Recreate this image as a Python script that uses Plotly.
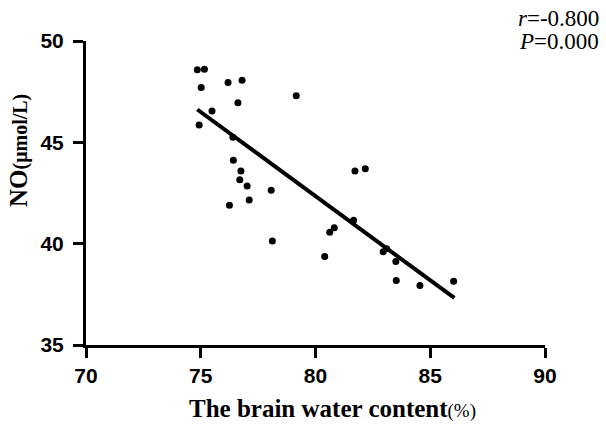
import plotly.graph_objects as go

# Data
water = [74.85, 75.16, 75.02, 75.49, 74.93, 76.19, 76.80, 76.62, 76.40, 76.42,
         76.75, 76.70, 77.02, 77.11, 76.25, 78.07, 78.12, 79.16, 81.72, 82.17,
         81.66, 80.62, 80.82, 80.40, 82.95, 83.10, 83.50, 83.52, 84.55, 86.02]
no_vals = [48.58, 48.60, 47.70, 46.55, 45.85, 47.95, 48.06, 46.95, 45.25, 44.12,
           43.58, 43.15, 42.85, 42.15, 41.90, 42.64, 40.13, 47.30, 43.58, 43.70,
           41.15, 40.56, 40.78, 39.37, 39.60, 39.75, 39.12, 38.18, 37.93, 38.15]
fit_x = [74.85, 86.05]
fit_y = [46.62, 37.32]
x_ticks = [70, 75, 80, 85, 90]
y_ticks = [35, 40, 45, 50]
stats_text = ["<i>r</i>=-0.800", "<i>P</i>=0.000"]
x_title = "<b>The brain water content</b><span style='font-size:19px'>(%)</span>"
y_title = "<b>NO<span style='font-size:20px'>(μmol/L)</span></b>"

W, H = 606, 425
L, R, T, B = 86, 61, 41, 80
pw, ph = W - L - R, H - T - B

fig = go.Figure()
fig.add_trace(go.Scatter(x=fit_x, y=fit_y, mode="lines",
                         line=dict(color="black", width=4), hoverinfo="skip"))
fig.add_trace(go.Scatter(x=water, y=no_vals, mode="markers",
                         marker=dict(color="black", size=7)))

axis_common = dict(showgrid=False, zeroline=False, showline=True, linecolor="black",
                   linewidth=3, ticks="outside", tickwidth=3, ticklen=10, tickcolor="black",
                   automargin=False,
                   tickfont=dict(family="Liberation Sans", size=21, color="black", weight="bold"))

fig.update_xaxes(range=[70, 90], tickvals=x_ticks, ticktext=[str(v) for v in x_ticks],
                 ticklabelstandoff=0, **axis_common)
fig.update_yaxes(range=[35, 50], tickvals=y_ticks, ticktext=[str(v) for v in y_ticks],
                 ticklabelstandoff=5, **axis_common)

# axis titles
fig.add_annotation(text=x_title, xref="paper", yref="paper",
                   x=(332 - L) / pw, y=-(408 - (T + ph)) / ph,
                   xanchor="center", yanchor="middle", showarrow=False,
                   font=dict(family="Liberation Serif", size=25, color="black"))
fig.add_annotation(text=y_title, xref="paper", yref="paper", textangle=-90,
                   x=(18 - L) / pw, y=((T + ph) - 151) / ph,
                   xanchor="center", yanchor="middle", showarrow=False,
                   font=dict(family="Liberation Serif", size=25, color="black"))

for i, t in enumerate(stats_text):
    cy = [19, 42][i]
    fig.add_annotation(text=t, xref="paper", yref="paper",
                       x=(601 - L) / pw, y=((T + ph) - cy) / ph,
                       xanchor="right", yanchor="middle", showarrow=False,
                       font=dict(family="Liberation Serif", size=23, color="black"))

fig.update_layout(width=W, height=H, showlegend=False,
                  paper_bgcolor="white", plot_bgcolor="white",
                  margin=dict(l=L, r=R, t=T, b=B, autoexpand=False))

fig.write_html("out.html", config={"displayModeBar": False},
               post_script="document.body.style.margin='0';document.body.style.overflow='hidden';")
